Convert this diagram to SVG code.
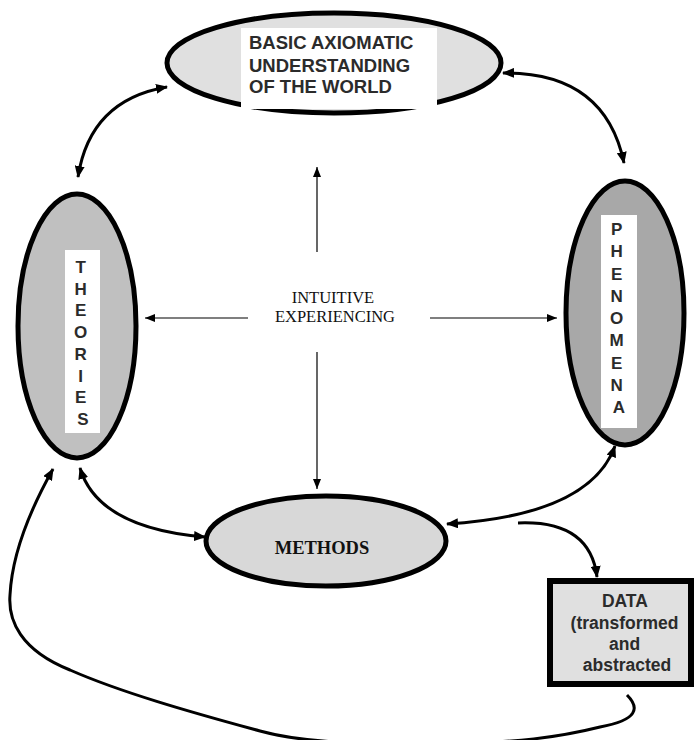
<svg xmlns="http://www.w3.org/2000/svg" width="698" height="740" viewBox="0 0 698 740">
  <style>
    .node { stroke: #000; stroke-width: 5; }
    .label-box { fill: #fff; stroke: none; }
    .sans { font-family: "Liberation Sans", Arial, sans-serif; font-weight: bold; fill: #2b2b2b; }
    .serif { font-family: "Liberation Serif", "Times New Roman", serif; fill: #111; }
    .thick { fill: none; stroke: #000; stroke-width: 3; }
    .thin { fill: none; stroke: #000; stroke-width: 1.2; }
  </style>
  <defs>
    <marker id="headBig" markerUnits="userSpaceOnUse" viewBox="0 0 12 10" refX="11" refY="5" markerWidth="12" markerHeight="10" orient="auto-start-reverse">
      <path d="M0,0 L12,5 L0,10 z" fill="#000"/>
    </marker>
    <marker id="headSmall" markerUnits="userSpaceOnUse" viewBox="0 0 10 8" refX="10" refY="4" markerWidth="10" markerHeight="8" orient="auto-start-reverse">
      <path d="M0,0 L10,4 L0,8 z" fill="#000"/>
    </marker>
  </defs>

  <rect width="698" height="740" fill="#fff"/>

  <!-- top node -->
  <g id="node-axiomatic">
    <ellipse class="node" cx="334" cy="63" rx="167" ry="50" fill="#e0e0e0"/>
    <rect class="label-box" x="241" y="28" width="196" height="81"/>
    <text class="sans" font-size="18.5" x="249" y="49">BASIC AXIOMATIC</text>
    <text class="sans" font-size="18.5" x="249" y="72">UNDERSTANDING</text>
    <text class="sans" font-size="18.5" x="249" y="93">OF THE WORLD</text>
  </g>

  <!-- left node -->
  <g id="node-theories">
    <ellipse class="node" cx="77" cy="326" rx="59" ry="132" fill="#c0c0c0"/>
    <rect class="label-box" x="65" y="250" width="35" height="183"/>
    <text class="sans" font-size="17" fill="#000" text-anchor="middle">
      <tspan x="83" y="273">T</tspan>
      <tspan x="83" y="295">H</tspan>
      <tspan x="83" y="316">E</tspan>
      <tspan x="83" y="338">O</tspan>
      <tspan x="83" y="360">R</tspan>
      <tspan x="83" y="382">I</tspan>
      <tspan x="83" y="403">E</tspan>
      <tspan x="83" y="425">S</tspan>
    </text>
  </g>

  <!-- right node -->
  <g id="node-phenomena">
    <ellipse class="node" cx="625" cy="313" rx="59" ry="132" fill="#a8a8a8"/>
    <rect class="label-box" x="601" y="215" width="36" height="213"/>
    <text class="sans" font-size="17" fill="#000" text-anchor="middle">
      <tspan x="619" y="235">P</tspan>
      <tspan x="619" y="257">H</tspan>
      <tspan x="619" y="280">E</tspan>
      <tspan x="619" y="302">N</tspan>
      <tspan x="619" y="324">O</tspan>
      <tspan x="619" y="346">M</tspan>
      <tspan x="619" y="369">E</tspan>
      <tspan x="619" y="391">N</tspan>
      <tspan x="619" y="413">A</tspan>
    </text>
  </g>

  <!-- bottom node -->
  <g id="node-methods">
    <ellipse class="node" cx="326" cy="541" rx="120" ry="45" fill="#d8d8d8"/>
    <text class="serif" font-size="18.5" font-weight="bold" x="322" y="554" text-anchor="middle">METHODS</text>
  </g>

  <!-- data box -->
  <g id="node-data">
    <rect x="550" y="581" width="141" height="103" fill="#e0e0e0" stroke="#000" stroke-width="6"/>
    <text class="sans" font-size="17.5" text-anchor="middle">
      <tspan x="627" y="607">DATA</tspan>
      <tspan x="627" y="629">(transformed</tspan>
      <tspan x="627" y="650">and</tspan>
      <tspan x="627" y="671">abstracted</tspan>
    </text>
  </g>

  <!-- centre label -->
  <g id="node-intuitive">
    <text class="serif" font-size="16.5" text-anchor="middle">
      <tspan x="335" y="303">INTUITIVE</tspan>
      <tspan x="335" y="322">EXPERIENCING</tspan>
    </text>
  </g>

  <g id="connectors">
    <!-- two-way curves between nodes -->
    <path class="thick" d="M78 177 Q90 100 167 87" marker-start="url(#headBig)" marker-end="url(#headBig)"/>
    <path class="thick" d="M503 73 Q605 72 624 163" marker-start="url(#headBig)" marker-end="url(#headBig)"/>
    <path class="thick" d="M80 468 Q98 528 205 537" marker-start="url(#headBig)" marker-end="url(#headBig)"/>
    <path class="thick" d="M447 524 Q590 515 615 446" marker-start="url(#headBig)" marker-end="url(#headBig)"/>
    <!-- methods to data -->
    <path class="thick" d="M518 523 Q590 520 597 577" marker-end="url(#headBig)"/>
    <!-- feedback loop from data back to theories -->
    <path class="thick" d="M627 695 C640 708 638 720 600 727 C560 737 520 743 430 744 C350 744 300 742 260 731 C190 712 120 692 70 670 C20 650 8 620 10 595 C12 555 30 510 53 469" marker-end="url(#headBig)"/>
    <!-- radiating arrows from the centre -->
    <path class="thin" d="M317 252 V167" marker-end="url(#headSmall)"/>
    <path class="thin" d="M317 352 V489" marker-end="url(#headSmall)"/>
    <path class="thin" d="M248 318 H145" marker-end="url(#headSmall)"/>
    <path class="thin" d="M430 318 H557" marker-end="url(#headSmall)"/>
  </g>
</svg>
